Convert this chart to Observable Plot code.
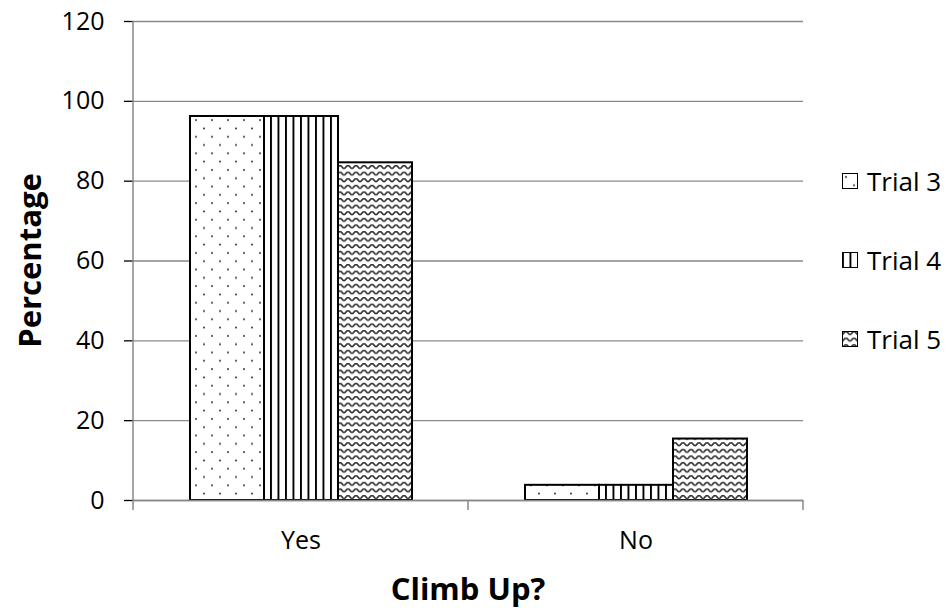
<!DOCTYPE html>
<html><head><meta charset="utf-8">
<script src="https://cdn.jsdelivr.net/npm/d3@7"></script>
<script src="https://cdn.jsdelivr.net/npm/@observablehq/plot@0.6"></script>
<style>
body{margin:0;background:#fff;font-family:"Open Sans",sans-serif;}
#wrap{position:relative;width:950px;height:613px;overflow:hidden;}
.lg{position:absolute;left:842px;display:flex;align-items:center;gap:9px;font-size:26px;line-height:30px;color:#000;white-space:nowrap;}
.lg svg{display:block;}
</style></head><body><div id="wrap"></div>
<script>
const categories = ["Yes", "No"];
const trials = ["Trial 3", "Trial 4", "Trial 5"];
const trial3 = [96.2, 3.8];
const trial4 = [96.2, 3.8];
const trial5 = [84.6, 15.4];
const yTicks = [0, 20, 40, 60, 80, 100, 120];
const patternIds = ["p-dots", "p-vlines", "p-waves"];
const xTitle = "Climb Up?";
const yTitle = "Percentage";

const series = [trial3, trial4, trial5];
const data = categories.flatMap((c, i) => trials.map((t, j) => ({category: c, trial: t, value: series[j][i]})));

const plot = Plot.plot({
  width: 950, height: 613,
  marginTop: 21, marginBottom: 113, marginLeft: 133, marginRight: 147,
  style: {fontFamily: '"Open Sans", sans-serif', fontSize: "25px", color: "#000", background: "#fff", overflow: "visible"},
  fx: {domain: categories, padding: 0, label: null, tickSize: 0, tickPadding: 31},
  x: {domain: trials, paddingInner: 0, paddingOuter: 0.75, axis: null},
  y: {domain: [0, 120], ticks: yTicks, label: null, tickSize: 9, tickPadding: 20},
  color: {type: "ordinal", domain: trials, range: patternIds.map(id => `url(#${id})`)},
  marks: [
    Plot.gridY(yTicks, {stroke: "#898989", strokeOpacity: 1, strokeWidth: 1.3}),
    Plot.barY(data, {fx: "category", x: "trial", y: "value", fill: "trial", stroke: "#000", strokeWidth: 2}),
    Plot.ruleY([0], {stroke: "#898989", strokeWidth: 1.6})
  ]
});

const svg = d3.select(plot);
const defs = svg.insert("defs", ":first-child");
// dotted pattern
const pd = defs.append("pattern").attr("id", "p-dots").attr("patternUnits", "userSpaceOnUse").attr("width", 16).attr("height", 16.6);
pd.append("rect").attr("width", 16).attr("height", 16.6).attr("fill", "#fff");
pd.append("circle").attr("cx", 4).attr("cy", 4).attr("r", 0.95).attr("fill", "#222");
pd.append("circle").attr("cx", 12).attr("cy", 12.3).attr("r", 0.95).attr("fill", "#222");
// vertical lines
const pv = defs.append("pattern").attr("id", "p-vlines").attr("patternUnits", "userSpaceOnUse").attr("width", 7.5).attr("height", 10);
pv.append("rect").attr("width", 7.5).attr("height", 10).attr("fill", "#fff");
pv.append("rect").attr("x", 0).attr("width", 1.9).attr("height", 10).attr("fill", "#000");
// waves
const pw = defs.append("pattern").attr("id", "p-waves").attr("patternUnits", "userSpaceOnUse").attr("width", 8).attr("height", 6.6);
pw.append("rect").attr("width", 8).attr("height", 6.6).attr("fill", "#fff");
pw.append("path").attr("d", "M-2,2 Q0,5 2,2 T6,2 T10,2").attr("fill", "none").attr("stroke", "#333").attr("stroke-width", 1.7);

const fx = plot.scale("fx");
const y = plot.scale("y");
const y0 = y.apply(0), yTop = y.apply(120);
const left = fx.apply(categories[0]);
const right = fx.apply(categories[categories.length - 1]) + fx.bandwidth;

// y-axis tick colour
svg.selectAll('g[aria-label="y-axis tick"]').attr("stroke", "#898989").attr("stroke-width", 1.3);

const extra = svg.append("g");
extra.append("line").attr("x1", left).attr("x2", left).attr("y1", yTop).attr("y2", y0)
  .attr("stroke", "#898989").attr("stroke-width", 1.5);
const bounds = categories.map(c => fx.apply(c)).concat([right]);
extra.selectAll("line.b").data(bounds).join("line").attr("class", "b")
  .attr("x1", d => d).attr("x2", d => d).attr("y1", y0).attr("y2", y0 + 10)
  .attr("stroke", "#898989").attr("stroke-width", 1.5);

extra.append("text").text(xTitle)
  .attr("x", (left + right) / 2).attr("y", 600).attr("text-anchor", "middle")
  .attr("font-weight", "bold").attr("font-size", 31).attr("fill", "#000");
extra.append("text").text(yTitle)
  .attr("transform", `translate(41,${(y0 + yTop) / 2}) rotate(-90)`).attr("text-anchor", "middle")
  .attr("font-weight", "bold").attr("font-size", 31).attr("fill", "#000");

const wrap = document.getElementById("wrap");
wrap.appendChild(plot);

// legend
const rowCenters = [183, 262, 341];
trials.forEach((t, i) => {
  const row = document.createElement("div");
  row.className = "lg";
  row.style.top = (rowCenters[i] - 17) + "px";
  row.innerHTML = `<svg width="16" height="16"><rect x="0.5" y="0.5" width="15" height="15" fill="url(#${patternIds[i]})" stroke="#000" stroke-width="1"/></svg><span>${t}</span>`;
  wrap.appendChild(row);
});
</script>
</body></html>
